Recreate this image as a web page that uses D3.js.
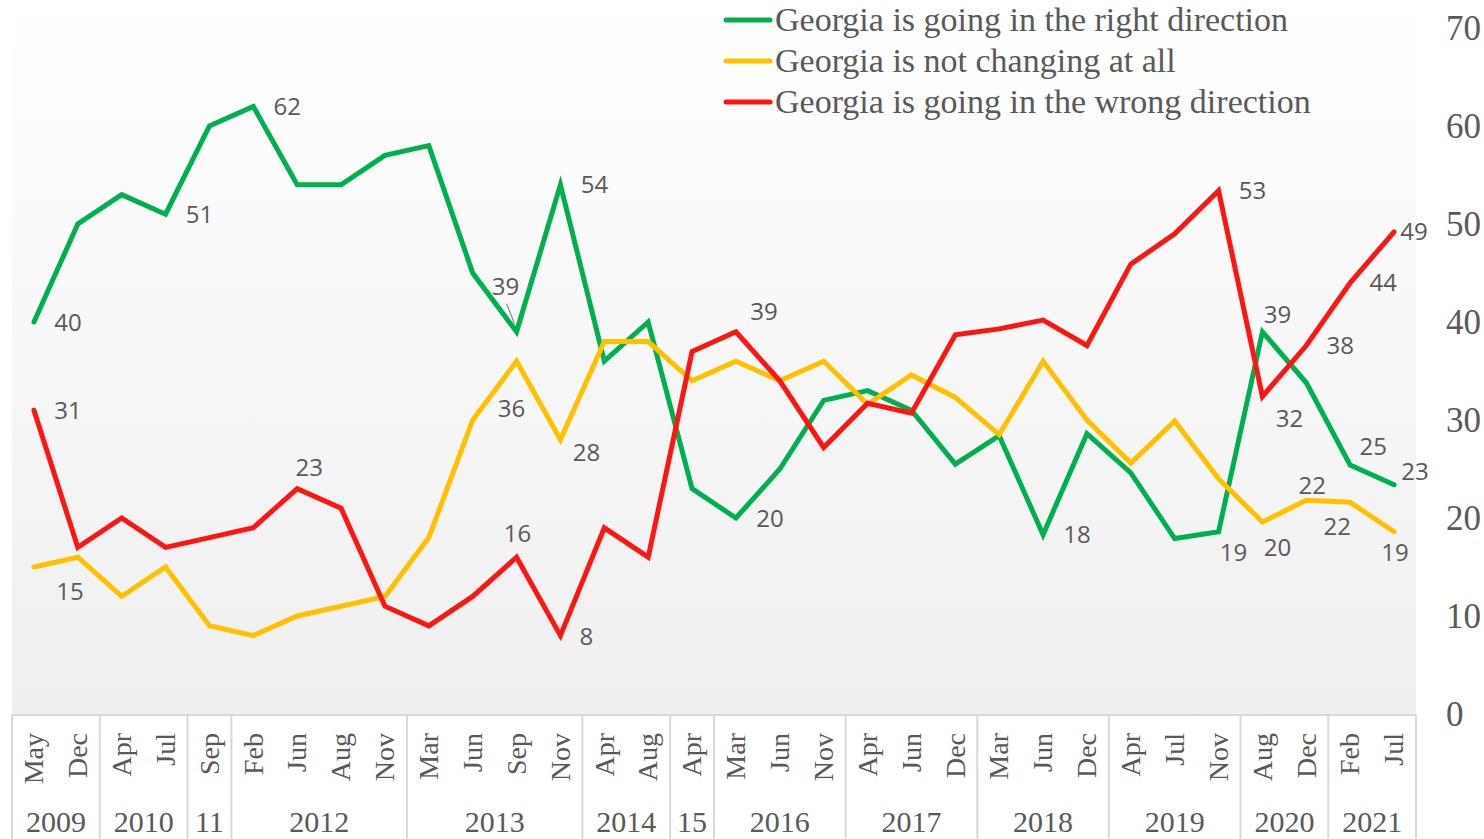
<!DOCTYPE html>
<html>
<head>
<meta charset="utf-8">
<script src="https://cdn.jsdelivr.net/npm/d3@7"></script>
<style>
  body { margin: 0; background: #fff; }
  svg { display: block; }
</style>
</head>
<body>
<div id="chart"></div>
<script>
// Data
var months = ["May", "Dec", "Apr", "Jul", "Sep", "Feb", "Jun", "Aug", "Nov",
    "Mar", "Jun", "Sep", "Nov", "Apr", "Aug", "Apr", "Mar", "Jun", "Nov",
    "Apr", "Jun", "Dec", "Mar", "Jun", "Dec", "Apr", "Jul", "Nov",
    "Aug", "Dec", "Feb", "Jul"];
var years = ["2009", "2010", "11", "2012", "2013", "2014", "15", "2016", "2017", "2018", "2019", "2020", "2021"];
var yearSizes = [2, 2, 1, 4, 4, 2, 1, 3, 3, 3, 3, 2, 2];

var rightDir = [40, 50, 53, 51, 60, 62, 54, 54, 57, 58, 45, 39, 54, 36, 40, 23,
    20, 25, 32, 33, 31, 25.5, 28.4, 18.3, 28.6, 24.6, 17.9, 18.6, 39, 33.8, 25.4, 23.4];
var notChanging = [15, 16, 12, 15, 9, 8, 10, 11, 12, 18, 30, 36, 28, 38, 38, 34,
    36, 34, 36, 31.6, 34.6, 32.3, 28.5, 36, 30, 25.6, 29.9, 24, 19.6, 21.8, 21.6, 18.6];
var wrongDir = [31, 17, 20, 17, 18, 19, 23, 21, 11, 9, 12, 16, 8, 19, 16, 37,
    39, 34, 27.2, 31.7, 30.7, 38.7, 39.3, 40.2, 37.6, 45.9, 49, 53.4, 32.4, 37.6, 44, 49.2];
var yTicks = [0, 10, 20, 30, 40, 50, 60, 70];

var seriesNames = ["Georgia is going in the right direction",
    "Georgia is not changing at all",
    "Georgia is going in the wrong direction"];
var seriesColors = ["#00b050", "#ffc000", "#ff1414"];

// which points carry a value label, and where the label sits (dx, dy from point)
var labelPlaces = [
    [[0, 34, 0], [3, 34, 0], [5, 34, 0], [11, -11, -45], [12, 34, 0], [16, 34, 0],
     [23, 34, 0], [27, 15, 21], [28, 15, -17], [30, 23, -19], [31, 21, -13]],
    [[0, 36, 24], [11, -5, 47], [12, 26, 13], [28, 15, 25], [29, 6, -15],
     [30, -13, 24], [31, 1, 21]],
    [[0, 34, 0], [6, 12, -21], [11, 1, -24], [12, 26, 1], [16, 28, -20],
     [27, 34, 0], [28, 27, 22], [29, 34, 0], [30, 33, 0], [31, 20, 0]]
];

var svgWidth = 1484, svgHeight = 839;
var plotLeft = 12, plotRight = 1416, plotTop = 0, plotBottom = 714;

var svg = d3.select("#chart").append("svg")
    .attr("width", svgWidth)
    .attr("height", svgHeight);

var defs = svg.append("defs");
var grad = defs.append("linearGradient")
    .attr("id", "bg").attr("x1", 0).attr("y1", 0).attr("x2", 0).attr("y2", 1);
grad.append("stop").attr("offset", "0%").attr("stop-color", "#ffffff");
grad.append("stop").attr("offset", "100%").attr("stop-color", "#efefef");

svg.append("rect")
    .attr("x", plotLeft).attr("y", plotTop)
    .attr("width", plotRight - plotLeft).attr("height", plotBottom - plotTop)
    .attr("fill", "url(#bg)");

var x = d3.scaleBand()
    .domain(d3.range(months.length))
    .range([plotLeft, plotRight]);
var bw = x.bandwidth();
var cx = i => x(i) + bw / 2;

var y = d3.scaleLinear()
    .domain([0, 70])
    .range([plotBottom, 28]);

// right axis
var rightAxis = d3.axisRight(y).tickValues(yTicks).tickSize(0).tickPadding(0);
var ay = svg.append("g")
    .attr("transform", `translate(1446, 0)`)
    .call(rightAxis);
ay.select(".domain").remove();
ay.selectAll("text")
    .attr("font-family", "Liberation Serif")
    .attr("font-size", 35)
    .attr("fill", "#595959")
    .attr("dy", "0.33em");

// category axis
var axisG = svg.append("g").attr("class", "catAxis");
axisG.append("line")
    .attr("x1", plotLeft).attr("x2", plotRight)
    .attr("y1", plotBottom + 1).attr("y2", plotBottom + 1)
    .attr("stroke", "#d9d9d9").attr("stroke-width", 2);

var starts = [0];
yearSizes.forEach((n, i) => starts.push(starts[i] + n));

axisG.selectAll("line.sep")
    .data(starts)
    .enter().append("line")
    .attr("class", "sep")
    .attr("x1", d => d < months.length ? x(d) : plotRight)
    .attr("x2", d => d < months.length ? x(d) : plotRight)
    .attr("y1", plotBottom + 1).attr("y2", svgHeight)
    .attr("stroke", "#d9d9d9").attr("stroke-width", 2);

axisG.selectAll("text.month")
    .data(months)
    .enter().append("text")
    .attr("class", "month")
    .attr("transform", (d, i) => `translate(${cx(i)}, 733) rotate(-90)`)
    .attr("text-anchor", "end")
    .attr("dy", "0.33em")
    .attr("font-family", "Liberation Serif")
    .attr("font-size", 28)
    .attr("fill", "#595959")
    .text(d => d);

axisG.selectAll("text.year")
    .data(years)
    .enter().append("text")
    .attr("class", "year")
    .attr("x", (d, i) => (x(starts[i]) + (starts[i + 1] < months.length ? x(starts[i + 1]) : plotRight)) / 2)
    .attr("y", 832)
    .attr("text-anchor", "middle")
    .attr("font-family", "Liberation Serif")
    .attr("font-size", 30)
    .attr("fill", "#595959")
    .text(d => d);

// lines
var series = [rightDir, notChanging, wrongDir];
var line = d3.line()
    .x((d, i) => cx(i))
    .y(d => y(d));

svg.append("g").selectAll("path")
    .data(series)
    .enter().append("path")
    .attr("d", d => line(d))
    .attr("fill", "none")
    .attr("stroke", (d, i) => seriesColors[i])
    .attr("stroke-width", 5)
    .attr("stroke-linejoin", "miter")
    .attr("stroke-linecap", "round");

// value labels
var labelG = svg.append("g");
series.forEach(function (vals, s) {
    labelPlaces[s].forEach(function (p) {
        var i = p[0];
        var px = cx(i), py = y(vals[i]);
        if (s === 0 && i === 11) {
            // leader line
            labelG.append("line")
                .attr("x1", px - 10).attr("y1", py - 28)
                .attr("x2", px - 2).attr("y2", py - 8)
                .attr("stroke", "#8c8c8c").attr("stroke-width", 1.2);
        }
        labelG.append("text")
            .attr("x", px + p[1])
            .attr("y", py + p[2])
            .attr("dy", "0.36em")
            .attr("text-anchor", "middle")
            .attr("font-family", "Open Sans")
            .attr("font-size", 24)
            .attr("fill", "#595959")
            .text(Math.round(vals[i]));
    });
});

// legend
var legend = svg.append("g");
seriesNames.forEach(function (name, i) {
    var ly = 20 + i * 41;
    legend.append("line")
        .attr("x1", 726).attr("x2", 770)
        .attr("y1", ly).attr("y2", ly)
        .attr("stroke", seriesColors[i])
        .attr("stroke-width", 5)
        .attr("stroke-linecap", "round");
    legend.append("text")
        .attr("x", 775)
        .attr("y", ly + 11)
        .attr("font-family", "Liberation Serif")
        .attr("font-size", 34)
        .attr("fill", "#595959")
        .text(name);
});
</script>
</body>
</html>
